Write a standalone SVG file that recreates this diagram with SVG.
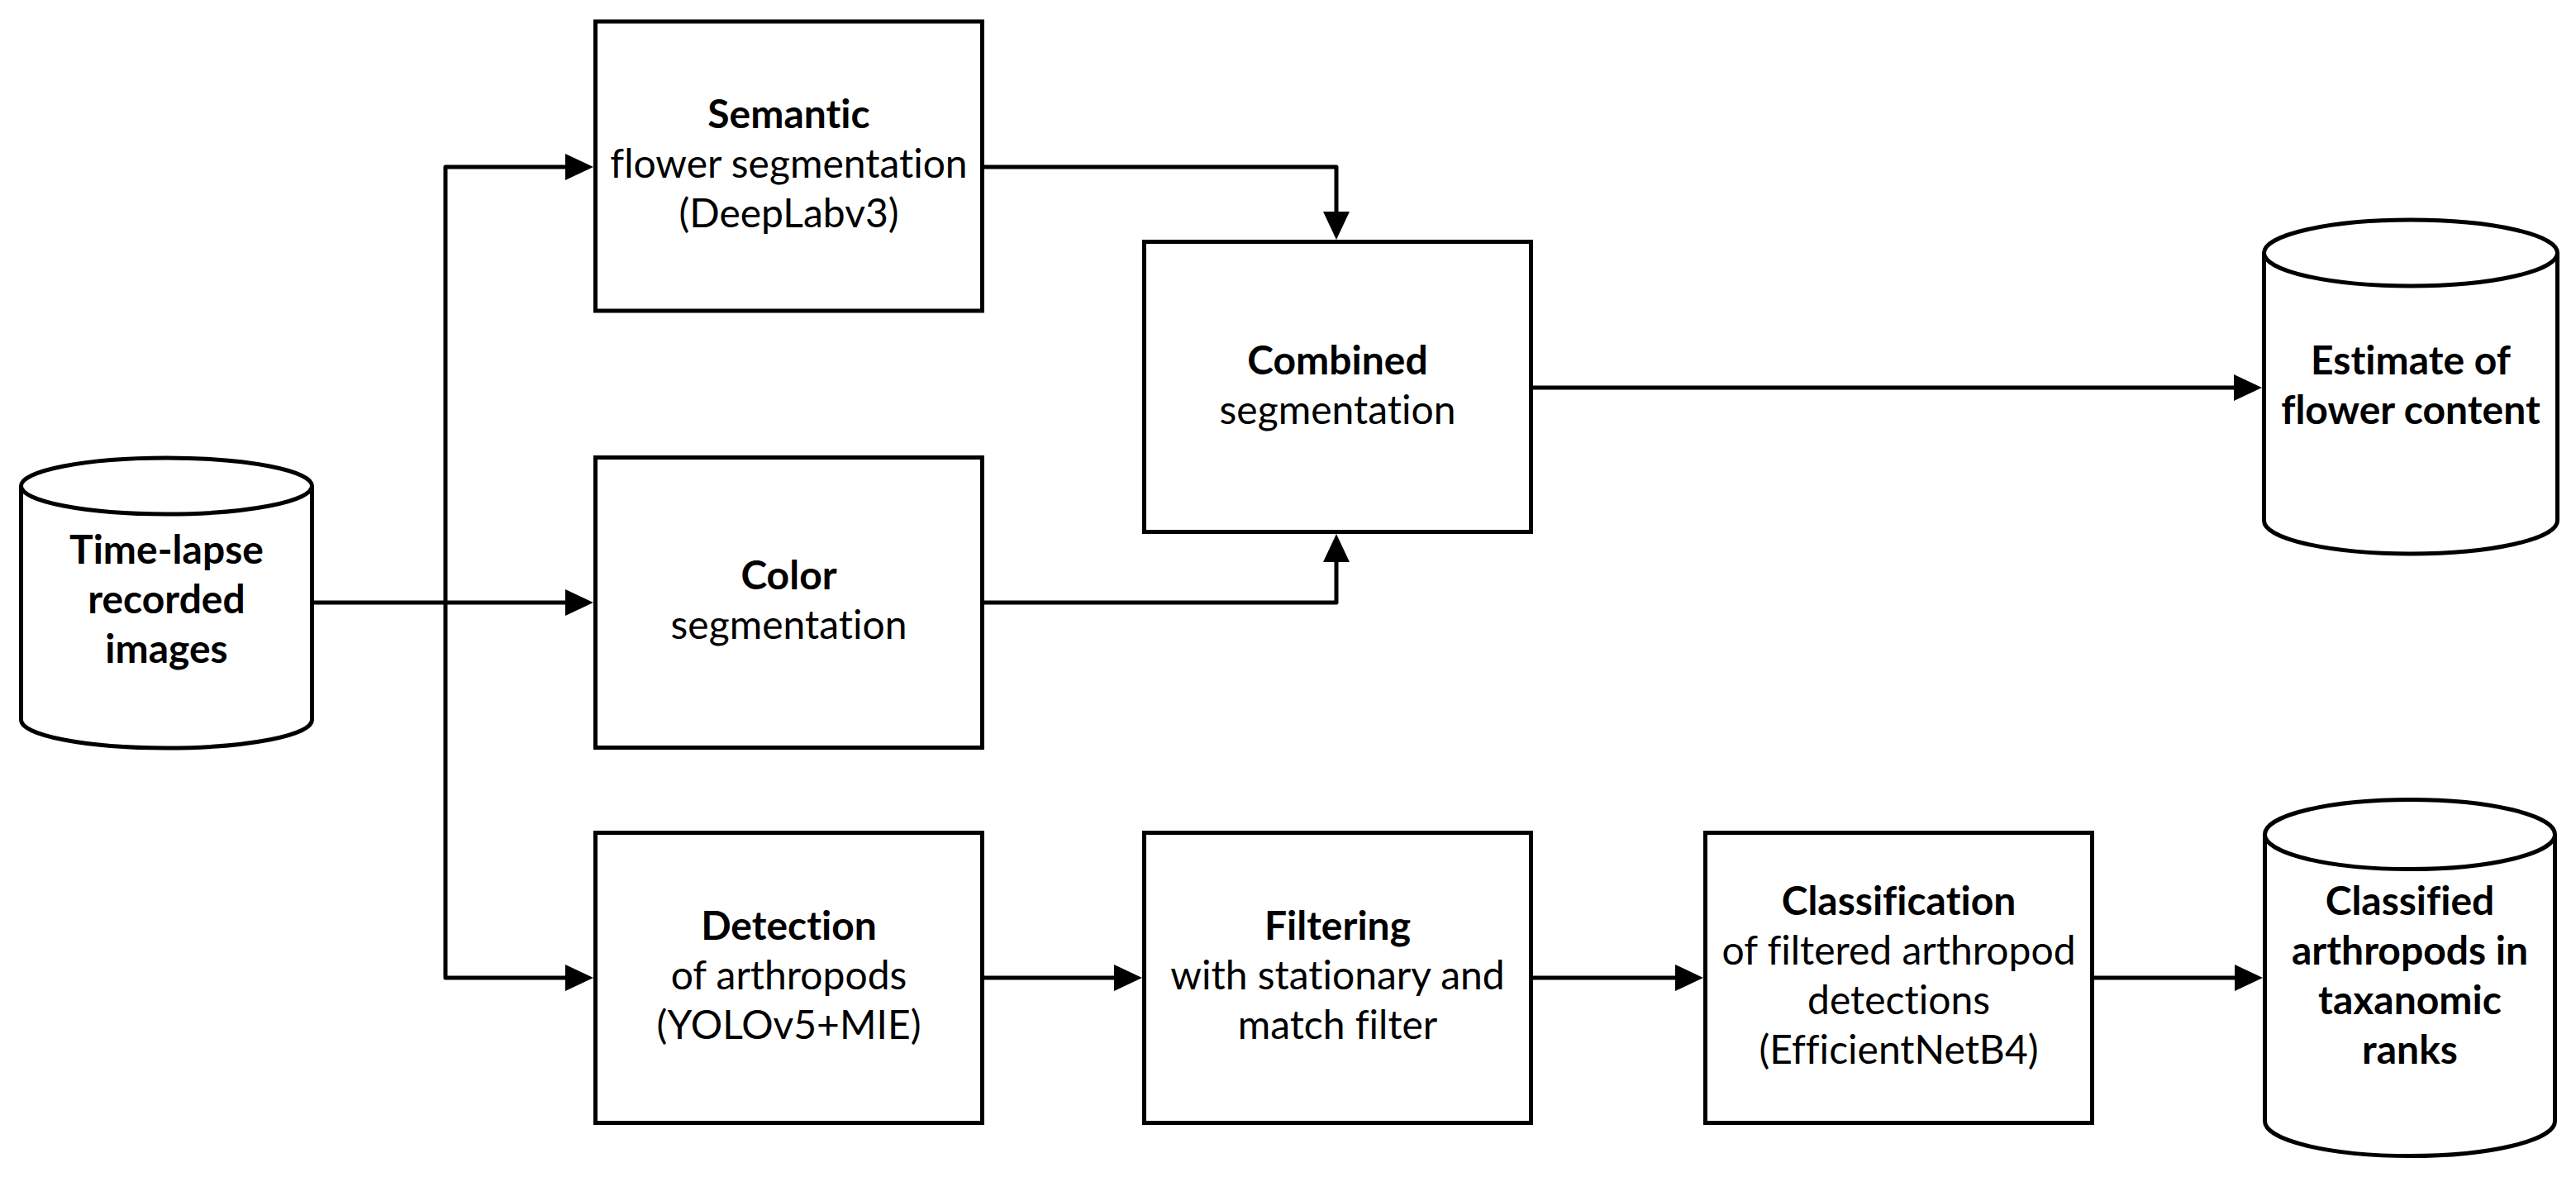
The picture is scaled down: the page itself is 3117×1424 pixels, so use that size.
<svg xmlns="http://www.w3.org/2000/svg" width="3117" height="1424" viewBox="0 0 3117 1424">
<style>
.box{fill:#fff;stroke:#000;stroke-width:5}
.cyl{fill:#fff;stroke:#000;stroke-width:5}
.cap{fill:none;stroke:#000;stroke-width:5}
.conn{fill:none;stroke:#000;stroke-width:5;stroke-linejoin:round}
text{font-family:Lato,"Open Sans","Liberation Sans",sans-serif;font-size:48px;fill:#000;text-anchor:middle;font-variant-ligatures:none;font-feature-settings:"liga" 0,"dlig" 0,"clig" 0}
.b{font-weight:bold}
</style>
<defs>
<marker id="arr" markerUnits="userSpaceOnUse" markerWidth="34" markerHeight="32" refX="24" refY="16" orient="auto" viewBox="0 0 34 32">
<path d="M0,0 L34,16 L0,32 Z" fill="#000"/>
</marker>
</defs>
<g id="connectors">
<path class="conn" d="M380,729 H708" marker-end="url(#arr)"/>
<path class="conn" d="M539,729 V202 H708" marker-end="url(#arr)"/>
<path class="conn" d="M539,729 V1183 H708" marker-end="url(#arr)"/>
<path class="conn" d="M1191,202 H1617 V280" marker-end="url(#arr)"/>
<path class="conn" d="M1191,729 H1617 V656" marker-end="url(#arr)"/>
<path class="conn" d="M1855,469 H2727" marker-end="url(#arr)"/>
<path class="conn" d="M1190,1183 H1372" marker-end="url(#arr)"/>
<path class="conn" d="M1854,1183 H2051" marker-end="url(#arr)"/>
<path class="conn" d="M2533,1183 H2728" marker-end="url(#arr)"/>
</g>
<g id="timelapse">
<path class="cyl" d="M25.5,588 A176,34 0 0,1 377.5,588 V871 A176,34 0 0,1 25.5,871 Z"/>
<path class="cap" d="M25.5,588 A176,34 0 0,0 377.5,588"/>
<text class="b" x="201.5" y="682">Time-lapse</text>
<text class="b" x="201.5" y="742">recorded</text>
<text class="b" x="201.5" y="802">images</text>
</g>
<g id="semantic">
<rect class="box" x="720.5" y="26" width="468" height="350"/>
<text class="b" x="954.5" y="155">Semantic</text>
<text x="954.5" y="215">flower segmentation</text>
<text x="954.5" y="275">(DeepLabv3)</text>
</g>
<g id="color">
<rect class="box" x="720.5" y="553.5" width="468" height="351"/>
<text class="b" x="954.5" y="713">Color</text>
<text x="954.5" y="773">segmentation</text>
</g>
<g id="combined">
<rect class="box" x="1384.5" y="292.5" width="468" height="351"/>
<text class="b" x="1618.5" y="453">Combined</text>
<text x="1618.5" y="513">segmentation</text>
</g>
<g id="estimate">
<path class="cyl" d="M2739.5,306 A177.5,40 0 0,1 3094.5,306 V630 A177.5,40 0 0,1 2739.5,630 Z"/>
<path class="cap" d="M2739.5,306 A177.5,40 0 0,0 3094.5,306"/>
<text class="b" x="2917" y="453">Estimate of</text>
<text class="b" x="2917" y="513">flower content</text>
</g>
<g id="detection">
<rect class="box" x="720.5" y="1007.5" width="468" height="351"/>
<text class="b" x="954.5" y="1137">Detection</text>
<text x="954.5" y="1197">of arthropods</text>
<text x="954.5" y="1257">(YOLOv5+MIE)</text>
</g>
<g id="filtering">
<rect class="box" x="1384.5" y="1007.5" width="468" height="351"/>
<text class="b" x="1618.5" y="1137">Filtering</text>
<text x="1618.5" y="1197">with stationary and</text>
<text x="1618.5" y="1257">match filter</text>
</g>
<g id="classification">
<rect class="box" x="2063.5" y="1007.5" width="468" height="351"/>
<text class="b" x="2297.5" y="1107">Classification</text>
<text x="2297.5" y="1167">of filtered arthropod</text>
<text x="2297.5" y="1227">detections</text>
<text x="2297.5" y="1287">(EfficientNetB4)</text>
</g>
<g id="classified">
<path class="cyl" d="M2740.5,1009.5 A175.5,42 0 0,1 3091.5,1009.5 V1356.5 A175.5,42 0 0,1 2740.5,1356.5 Z"/>
<path class="cap" d="M2740.5,1009.5 A175.5,42 0 0,0 3091.5,1009.5"/>
<text class="b" x="2916" y="1107">Classified</text>
<text class="b" x="2916" y="1167">arthropods in</text>
<text class="b" x="2916" y="1227">taxanomic</text>
<text class="b" x="2916" y="1287">ranks</text>
</g>
</svg>
